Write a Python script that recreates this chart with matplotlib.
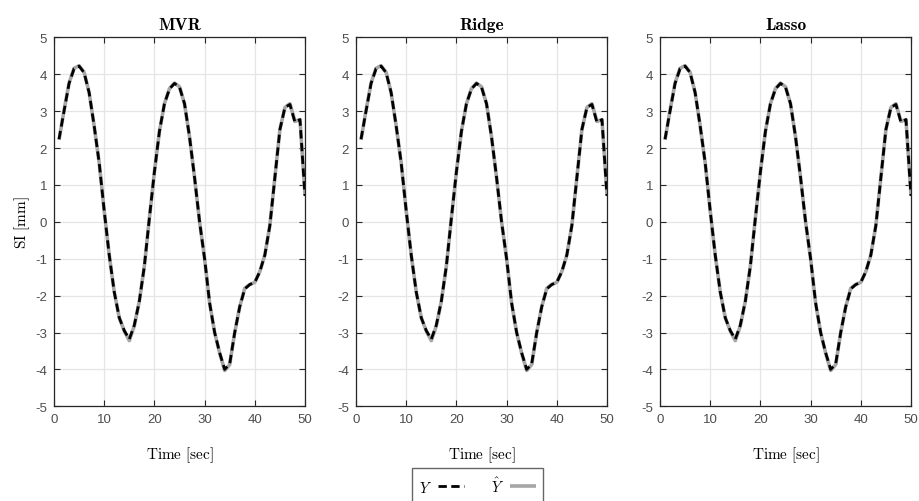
import numpy as np
import matplotlib
matplotlib.use("Agg")
import matplotlib.pyplot as plt

# time axis and signals
t = np.arange(1, 51)
y_true = [2.24, 3.0, 3.75, 4.15, 4.22, 4.04, 3.5, 2.6, 1.6, 0.3,
          -0.9, -1.9, -2.6, -2.95, -3.18, -2.8, -2.15, -1.2, 0.1, 1.35,
          2.45, 3.2, 3.6, 3.75, 3.65, 3.2, 2.3, 1.2, 0.0, -1.0,
          -2.2, -3.0, -3.55, -4.0, -3.85, -3.0, -2.3, -1.82, -1.7, -1.64,
          -1.35, -0.9, -0.1, 1.2, 2.5, 3.1, 3.18, 2.7, 2.77, 0.7]
y_hat = [2.22, 3.02, 3.76, 4.16, 4.23, 4.05, 3.5, 2.6, 1.6, 0.3,
         -0.9, -1.9, -2.6, -2.96, -3.22, -2.82, -2.15, -1.2, 0.1, 1.35,
         2.45, 3.2, 3.61, 3.76, 3.66, 3.2, 2.3, 1.2, 0.0, -1.0,
         -2.2, -3.0, -3.56, -4.03, -3.87, -3.0, -2.3, -1.8, -1.7, -1.64,
         -1.35, -0.9, -0.1, 1.2, 2.5, 3.1, 3.2, 2.72, 2.77, 0.72]

titles = ["MVR", "Ridge", "Lasso"]
xticks = [0, 10, 20, 30, 40, 50]
yticks = [-5, -4, -3, -2, -1, 0, 1, 2, 3, 4, 5]

plt.rcParams['mathtext.fontset'] = 'cm'
plt.rcParams['axes.unicode_minus'] = False
plt.rcParams['font.family'] = ['Liberation Sans', 'DejaVu Sans']

fig = plt.figure(figsize=(9.19, 5.02), dpi=100)
W, H = 919.0, 502.0
lefts = [54, 356, 660]
axw = 251
top, bottom = 38.3, 407.3

spine_c = '#262626'
lines = None
for i, name in enumerate(titles):
    ax = fig.add_axes([lefts[i] / W, 1 - bottom / H, axw / W, (bottom - top) / H])
    l2, = ax.plot(t, y_hat, color='#a6a6a6', lw=2.6, solid_capstyle='butt')
    l1, = ax.plot(t, y_true, color='black', lw=2.0, ls=(0, (3.0, 1.6)))
    lines = (l1, l2)
    ax.set_xlim(0, 50)
    ax.set_ylim(-5, 5)
    ax.set_xticks(xticks)
    ax.set_yticks(yticks)
    ax.grid(True, color='#e5e5e5', lw=0.9)
    ax.set_axisbelow(True)
    ax.tick_params(direction='in', top=True, right=True, length=4,
                   width=0.8, colors=spine_c, labelcolor='#4d4d4d',
                   labelsize=9.5, pad=5)
    for s in ax.spines.values():
        s.set_color(spine_c)
        s.set_linewidth(0.9)
    ax.set_title(name, fontfamily='cmb10', fontsize=12.5, pad=6)
    ax.set_xlabel(r'$\mathrm{Time\ [sec]}$', fontsize=11, labelpad=14)
    if i == 0:
        ax.set_ylabel(r'$\mathrm{SI\ [mm]}$', fontsize=11, labelpad=2)

leg = fig.legend(lines, [r'$Y$', r'$\hat{Y}$'], loc='upper center',
                 bbox_to_anchor=(477.5 / W, 1 - 469.0 / H), ncol=2,
                 markerfirst=False, frameon=True, fancybox=False,
                 fontsize=10.5, handlelength=1.8, columnspacing=1.8,
                 handletextpad=0.4, borderpad=0.5, borderaxespad=0)
leg.get_frame().set_edgecolor('#404040')
leg.get_frame().set_linewidth(1.0)

fig.savefig('out.png', dpi=100)
